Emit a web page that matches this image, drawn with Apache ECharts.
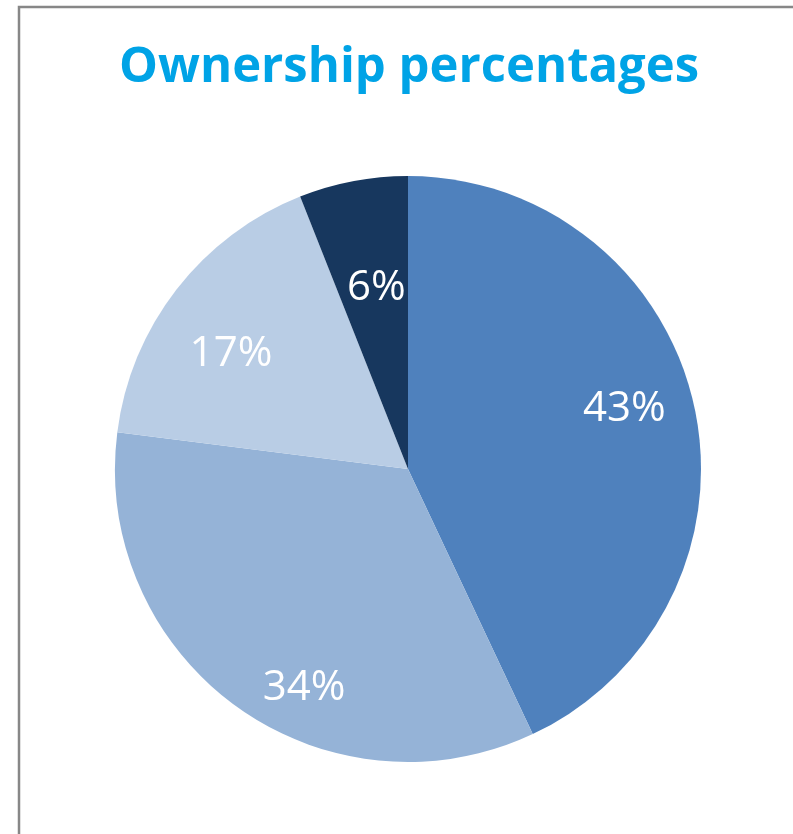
<!DOCTYPE html>
<html><head><meta charset="utf-8">
<script src="https://cdn.jsdelivr.net/npm/echarts@6/dist/echarts.min.js"></script>
<style>html,body{margin:0;padding:0;background:#fff}#c{width:793px;height:834px}</style>
</head><body><div id="c"></div>
<script>
const titleText = 'Ownership percentages';
const categories = ['A', 'B', 'C', 'D'];
const values = [43, 34, 17, 6];
const colors = ['#4F81BD', '#95B3D7', '#B9CDE5', '#17375E'];

const chart = echarts.init(document.getElementById('c'), null, {renderer: 'canvas'});
const data = categories.map((c, i) => ({name: c, value: values[i], itemStyle: {color: colors[i]}}));
const center = [408, 469];
const R = 293;
// label nudges (Excel best-fit placement)
const labelOffsets = [[-1, -11], [27, 39], [-1, 22], [10, 38]];
chart.setOption({
  animation: false,
  backgroundColor: '#fff',
  title: {
    text: titleText, left: 114, top: 39,
    textStyle: {fontFamily: 'Open Sans', fontWeight: 'bold', fontSize: 49, color: '#00A3E6'}
  },
  graphic: [{
    type: 'rect', shape: {x: 19, y: 7, width: 800, height: 900},
    style: {fill: 'none', stroke: '#878787', lineWidth: 2.5}, silent: true, z: -1
  }],
  series: [{
    type: 'pie', center: center, radius: [0, R], startAngle: 90, clockwise: true,
    data: data, label: {show: false}, labelLine: {show: false},
    itemStyle: {borderWidth: 0}, silent: true
  }, {
    type: 'pie', center: center, radius: [R * 0.5, R], startAngle: 90, clockwise: true,
    data: categories.map((c, i) => ({name: c, value: values[i], label: {offset: labelOffsets[i]}})),
    itemStyle: {color: 'rgba(0,0,0,0)'}, silent: true,
    label: {show: true, position: 'inside', formatter: p => p.value + '%',
      color: '#fff', fontFamily: 'Open Sans', fontSize: 42}
  }]
});
</script></body></html>
